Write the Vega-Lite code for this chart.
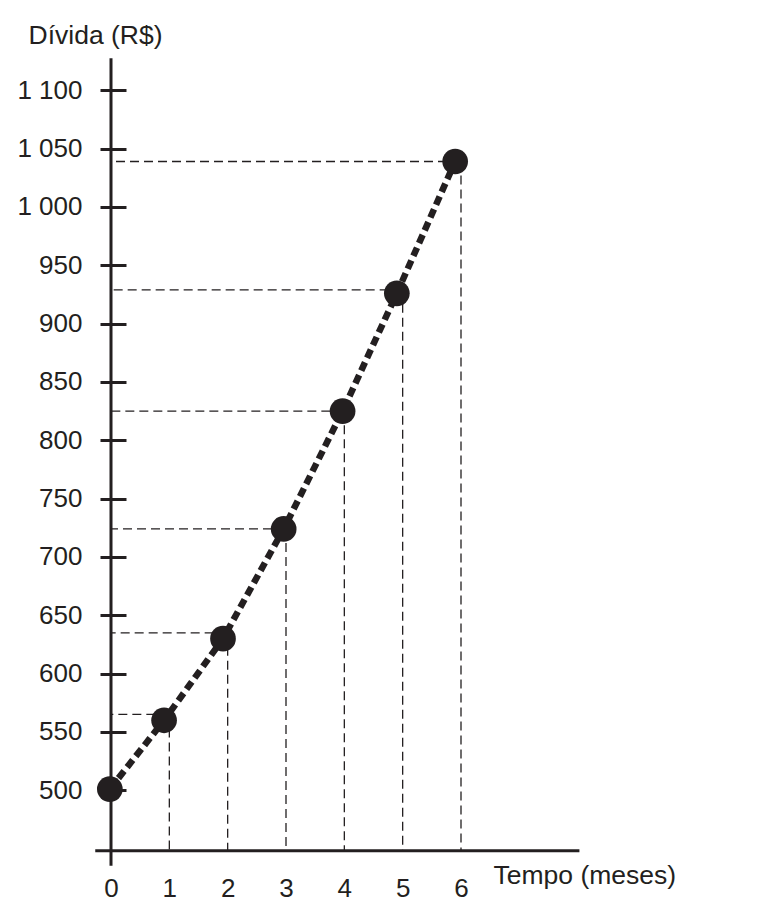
{
  "$schema": "https://vega.github.io/schema/vega-lite/v6.json",
  "width": 469,
  "height": 808,
  "autosize": "none",
  "padding": {"left": 111, "top": 58, "right": 179, "bottom": 56},
  "background": "white",
  "config": {
    "view": {"stroke": null},
    "font": "Liberation Sans",
    "axis": {
      "grid": false,
      "labelFont": "Liberation Sans",
      "labelColor": "#231f20",
      "labelFontSize": 26,
      "titleFont": "Liberation Sans",
      "titleColor": "#231f20",
      "titleFontSize": 26.5,
      "titleFontWeight": "normal"
    }
  },
  "data": {
    "values": [
      {"mes": 0, "mes_ponto": -0.02, "divida": 501, "guia": null},
      {"mes": 1, "mes_ponto": 0.91, "divida": 560, "guia": 565},
      {"mes": 2, "mes_ponto": 1.92, "divida": 630, "guia": 635},
      {"mes": 3, "mes_ponto": 2.96, "divida": 724, "guia": 724},
      {"mes": 4, "mes_ponto": 3.97, "divida": 825, "guia": 825},
      {"mes": 5, "mes_ponto": 4.9, "divida": 926, "guia": 929},
      {"mes": 6, "mes_ponto": 5.9, "divida": 1039, "guia": 1039}
    ]
  },
  "layer": [
    {
      "transform": [{"filter": "datum.mes > 0"}],
      "mark": {"type": "rule", "color": "#231f20", "strokeWidth": 1.3, "strokeDash": [9, 5]},
      "encoding": {
        "x": {
          "field": "mes",
          "type": "quantitative",
          "scale": {"domain": [0, 8.04], "nice": false, "zero": false},
          "axis": {
            "title": "Tempo (meses)",
            "values": [0, 1, 2, 3, 4, 5, 6],
            "format": "d",
            "domain": false,
            "ticks": false,
            "tickSize": 0,
            "labelPadding": 22,
            "labelBaseline": "middle",
            "labelFlush": false,
            "titleX": 382,
            "titleY": 17,
            "titleAlign": "left",
            "titleAnchor": "start",
            "titleBaseline": "alphabetic"
          }
        },
        "x2": {"datum": 0},
        "y": {
          "field": "guia",
          "type": "quantitative",
          "scale": {"domain": [435.1, 1127.7], "nice": false, "zero": false},
          "axis": {
            "title": "Dívida (R$)",
            "values": [500, 550, 600, 650, 700, 750, 800, 850, 900, 950, 1000, 1050, 1100],
            "labelExpr": "replace(format(datum.value, ','), ',', ' ')",
            "offset": -15,
            "domain": false,
            "tickSize": 26,
            "tickWidth": 3,
            "tickColor": "#231f20",
            "labelPadding": 18,
            "labelFlush": false,
            "titleAngle": 0,
            "titleX": -98,
            "titleY": -15,
            "titleAlign": "left",
            "titleAnchor": "start",
            "titleBaseline": "alphabetic"
          }
        }
      }
    },
    {
      "transform": [{"filter": "datum.mes > 0"}],
      "mark": {"type": "rule", "color": "#231f20", "strokeWidth": 1.3, "strokeDash": [9, 5]},
      "encoding": {
        "x": {"field": "mes", "type": "quantitative"},
        "y": {"field": "guia", "type": "quantitative"},
        "y2": {"datum": 448.2}
      }
    },
    {
      "data": {"values": [{}]},
      "mark": {"type": "rule", "color": "#231f20", "strokeWidth": 3},
      "encoding": {
        "x": {"datum": 0, "type": "quantitative"},
        "y": {"datum": 435.4, "type": "quantitative"},
        "y2": {"datum": 1127.4}
      }
    },
    {
      "data": {"values": [{}]},
      "mark": {"type": "rule", "color": "#231f20", "strokeWidth": 3},
      "encoding": {
        "x": {"datum": -0.27, "type": "quantitative"},
        "x2": {"datum": 8.03},
        "y": {"datum": 448.2, "type": "quantitative"}
      }
    },
    {
      "mark": {"type": "line", "color": "#231f20", "strokeWidth": 6.5, "strokeDash": [9, 5]},
      "encoding": {
        "x": {"field": "mes_ponto", "type": "quantitative"},
        "y": {"field": "divida", "type": "quantitative"}
      }
    },
    {
      "mark": {"type": "circle", "color": "#231f20", "opacity": 1, "size": 660},
      "encoding": {
        "x": {"field": "mes_ponto", "type": "quantitative"},
        "y": {"field": "divida", "type": "quantitative"}
      }
    }
  ]
}
